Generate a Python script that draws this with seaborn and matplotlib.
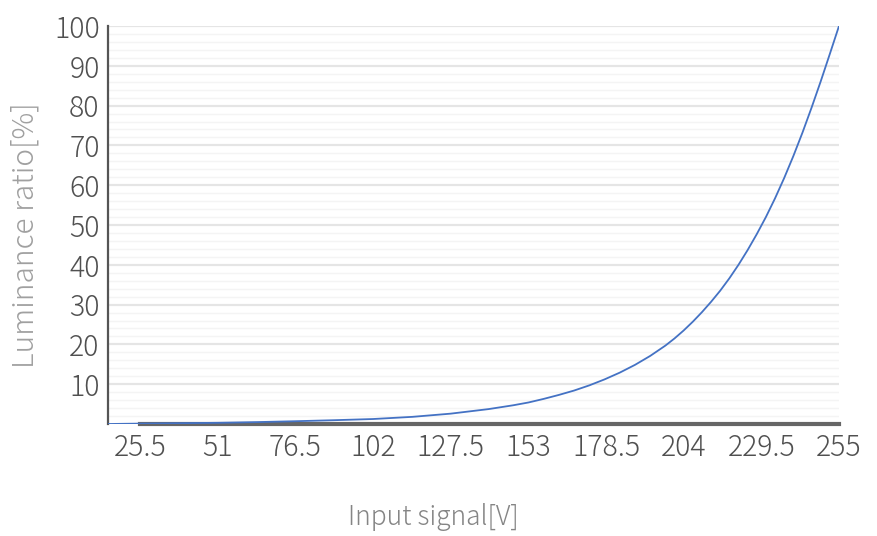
import matplotlib
matplotlib.use("Agg")
import matplotlib.pyplot as plt
import numpy as np
import pandas as pd
import seaborn as sns

# Values
signal = [15, 25.5, 38, 51, 64, 76.5, 89, 102, 115, 127.5, 140, 148, 153, 158,
          163, 168, 173, 178, 183, 188, 193, 198, 201, 204, 207, 210, 213, 216,
          219, 222, 225, 228, 231, 234, 237, 240, 243, 246, 249, 252, 255]
luminance = [0, 0.1, 0.2, 0.3, 0.48, 0.7, 0.95, 1.25, 1.8, 2.6, 3.75, 4.7, 5.4, 6.3,
             7.3, 8.4, 9.7, 11.2, 12.9, 14.85, 17.1, 19.7, 21.5, 23.5, 25.7, 28.1, 30.7, 33.5,
             36.6, 40.0, 43.7, 47.7, 52.0, 56.7, 61.8, 67.3, 73.2, 79.5, 86.1, 93.0, 100]
x_ticks = [25.5, 51, 76.5, 102, 127.5, 153, 178.5, 204, 229.5, 255]
x_tick_labels = ["25.5", "51", "76.5", "102", "127.5", "153", "178.5", "204", "229.5", "255"]
y_ticks = [10, 20, 30, 40, 50, 60, 70, 80, 90, 100]

df = pd.DataFrame({"signal": signal, "luminance": luminance})

sns.set_style("white")
plt.rcParams['font.family'] = ['Noto Sans CJK JP', 'DejaVu Sans']

fig = plt.figure(figsize=(8.77, 5.36), dpi=100)
ax = fig.add_axes([108 / 877, 1 - 424 / 536, (839 - 108) / 877, (424 - 26) / 536])

# minor and major horizontal grid
for v in np.arange(2, 101, 2):
    if v % 10 == 0:
        ax.axhline(v, color="#e5e5e5", lw=1.6, zorder=0)
    else:
        ax.axhline(v, color="#f4f4f4", lw=1.0, zorder=0)

sns.lineplot(data=df, x="signal", y="luminance", ax=ax, color="#4472c4", lw=1.3, zorder=3)

ax.set_xlim(15, 255)
ax.set_ylim(0, 100)
ax.set_xticks(x_ticks)
ax.set_xticklabels(x_tick_labels)
ax.set_yticks(y_ticks)

for s in ["top", "right"]:
    ax.spines[s].set_visible(False)
ax.spines["left"].set_color("#555555")
ax.spines["left"].set_linewidth(1.6)
ax.spines["bottom"].set_color("#666666")
ax.spines["bottom"].set_linewidth(3)
ax.spines["bottom"].set_bounds(25.5, 255)
ax.spines["bottom"].set_zorder(2)
ax.spines["left"].set_zorder(2)

ax.tick_params(axis="x", length=4, width=1.5, color="#666666", pad=2,
               labelsize=20.5, labelcolor="#505050", direction="out")
ax.tick_params(axis="y", length=0, pad=6, labelsize=20.5, labelcolor="#505050")
for lab in ax.get_xticklabels() + ax.get_yticklabels():
    lab.set_fontweight("light")

ax.set_xlabel("Input signal[V]", fontsize=19, color="#858585", fontweight="light", labelpad=0, va="center")
ax.set_ylabel("Luminance ratio[%]", fontsize=21.5, color="#a0a0a0", fontweight="light", labelpad=0, va="center")
ax.xaxis.set_label_coords((433 - 108) / 731, -(517 - 424) / 398)
ax.yaxis.set_label_coords(-(108 - 25) / 731, (424 - 235) / 398)

fig.savefig("out.png", dpi=100)
